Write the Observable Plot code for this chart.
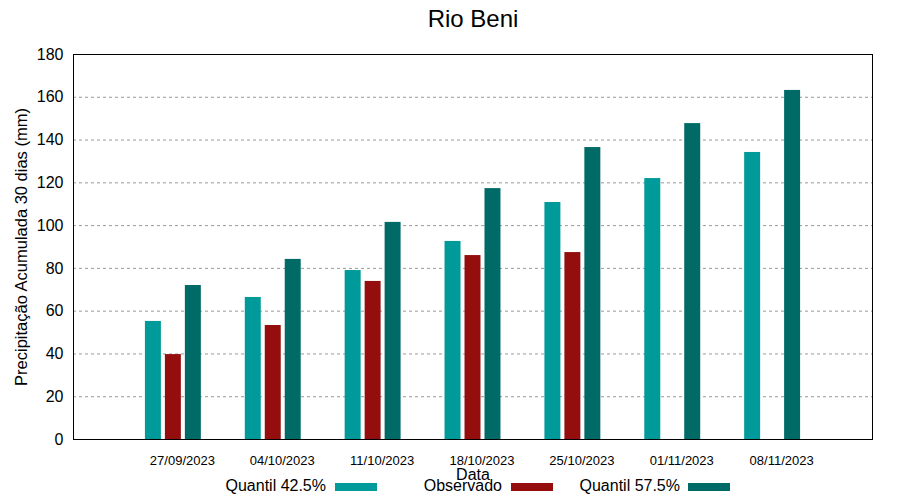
<!DOCTYPE html>
<html><head><meta charset="utf-8">
<script src="https://cdn.jsdelivr.net/npm/d3@7"></script>
<script src="https://cdn.jsdelivr.net/npm/@observablehq/plot@0.6"></script>
<style>
body{margin:0;background:#fff;font-family:"Liberation Sans",Arial,sans-serif;}
#wrap{position:relative;width:900px;height:500px;}
#legend{position:absolute;left:0;top:477px;width:900px;height:20px;font-size:16px;color:#000;}
#legend span.t{position:absolute;top:0;line-height:18px;white-space:nowrap;}
#legend span.s{position:absolute;top:6px;height:8px;width:42px;}
</style></head>
<body><div id="wrap"><div id="chart"></div><div id="legend"></div></div>
<script>
const dates = ["27/09/2023","04/10/2023","11/10/2023","18/10/2023","25/10/2023","01/11/2023","08/11/2023"];
const q425 = [55.2, 66.4, 79.0, 92.6, 110.8, 122.0, 134.2];
const obs  = [39.7, 53.3, 73.9, 86.0, 87.4, null, null];
const q575 = [72.0, 84.2, 101.5, 117.3, 136.5, 147.7, 163.2];
const seriesNames = ["Quantil 42.5%","Observado","Quantil 57.5%"];
const seriesColors = ["#009a9a","#950e0e","#006a66"];
const yTicks = [0,20,40,60,80,100,120,140,160,180];
const gridTicks = [20,40,60,80,100,120,140,160];

const seriesVals = [q425, obs, q575];
const offsets = [-0.2, 0, 0.2];
const rows = [];
dates.forEach((d,i)=>seriesVals.forEach((arr,k)=>{
  if (arr[i] != null) rows.push({i, k, series: seriesNames[k], value: arr[i]});
}));

const chart = Plot.plot({
  width: 900, height: 500,
  marginTop: 54, marginBottom: 61, marginLeft: 73, marginRight: 28,
  style: {fontFamily: "Liberation Sans, Arial, sans-serif", fontSize: "16px", color: "#000", background: "#fff"},
  x: {type: "linear", domain: [-1, 7]},
  y: {domain: [0, 180]},
  color: {domain: seriesNames, range: seriesColors},
  marks: [
    Plot.ruleY(gridTicks, {stroke: "#999", strokeDasharray: "3,3", strokeWidth: 1}),
    Plot.rectY(rows, {x1: d => d.i + offsets[d.k] - 0.08, x2: d => d.i + offsets[d.k] + 0.08, y1: 0, y2: "value", fill: "series"}),
    Plot.frame({stroke: "#000", strokeWidth: 1}),
    Plot.axisY(yTicks, {tickSize: 0, tickPadding: 10, fontSize: 16, label: null}),
    Plot.text(["Precipitação Acumulada 30 dias (mm)"], {frameAnchor: "left", dx: -52, rotate: -90, textAnchor: "middle", lineAnchor: "middle", fontSize: 16.5, text: d => d}),
    Plot.axisX(d3.range(dates.length), {tickSize: 0, tickPadding: 16, fontSize: 13, dx: 9, tickFormat: i => dates[i], label: null}),
    Plot.text(["Data"], {frameAnchor: "bottom", dy: 35, lineAnchor: "middle", fontSize: 16, text: d => d}),
    Plot.text(["Rio Beni"], {frameAnchor: "top", dy: -35, lineAnchor: "middle", fontSize: 24, text: d => d})
  ]
});
document.getElementById("chart").appendChild(chart);

const leg = document.getElementById("legend");
const textRight = [326, 502, 680];
const swLeft = [335, 511, 688];
seriesNames.forEach((n,k)=>{
  const t = document.createElement("span"); t.className = "t"; t.textContent = n;
  t.style.right = (900 - textRight[k]) + "px"; leg.appendChild(t);
  const s = document.createElement("span"); s.className = "s";
  s.style.left = swLeft[k] + "px"; s.style.background = seriesColors[k]; leg.appendChild(s);
});
</script></body></html>
